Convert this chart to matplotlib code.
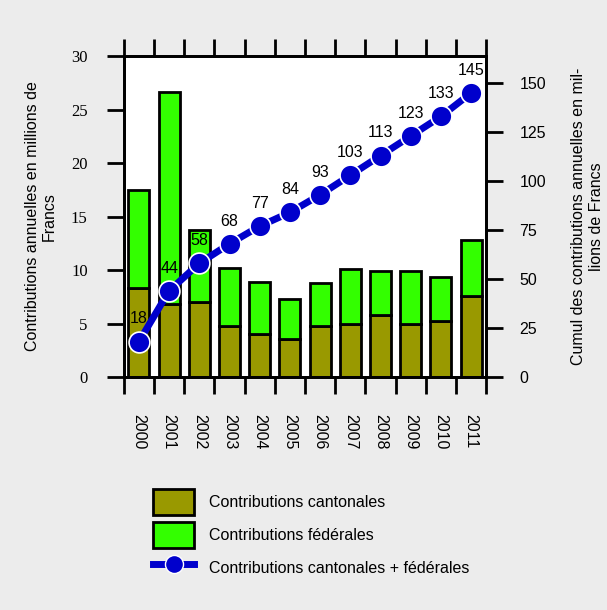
import matplotlib.pyplot as plt
from matplotlib.patches import Patch
from matplotlib.lines import Line2D

plt.rcParams['font.family'] = ['Liberation Sans', 'DejaVu Sans']

annees = ['2000', '2001', '2002', '2003', '2004', '2005',
          '2006', '2007', '2008', '2009', '2010', '2011']
cantonales = [8.3, 6.8, 7.0, 4.8, 4.0, 3.55, 4.8, 4.95, 5.75, 5.0, 5.25, 7.6]
federales = [9.2, 19.8, 6.7, 5.4, 4.85, 3.75, 4.0, 5.1, 4.15, 4.9, 4.1, 5.25]
cumul = [18, 44, 58, 68, 77, 84, 93, 103, 113, 123, 133, 145]

bg = '#ececec'
c_cant = '#999900'
c_fed = '#33ff00'
c_line = '#0000cc'
fs = 11.5

fig = plt.figure(figsize=(6.07, 6.10), dpi=100, facecolor=bg)
ax = fig.add_axes([0.204, 0.382, 0.597, 0.526])
ax.set_facecolor('white')

x = list(range(len(annees)))
ax.bar(x, cantonales, width=0.7, color=c_cant, edgecolor='black', linewidth=2, zorder=2)
ax.bar(x, federales, width=0.7, bottom=cantonales, color=c_fed,
       edgecolor='black', linewidth=2, zorder=2)

ax.set_xlim(-0.5, len(annees) - 0.5)
ax.set_ylim(0, 30)
ax.set_yticks(range(0, 31, 5))
ax.set_yticklabels([str(v) for v in range(0, 31, 5)], family='Liberation Serif', fontsize=12)

# ticks aux limites des barres, libellés au centre
ax.set_xticks([k - 0.5 for k in range(len(annees) + 1)])
ax.set_xticklabels([])
ax.set_xticks(x, minor=True)
ax.set_xticklabels(annees, minor=True, rotation=-90, fontsize=fs)
ax.tick_params(axis='x', which='major', direction='out', length=12, width=2,
               top=True, bottom=True)
ax.tick_params(axis='x', which='minor', length=0, pad=27)
ax.tick_params(axis='y', direction='out', length=12, width=2, pad=14)
for s in ax.spines.values():
    s.set_linewidth(2)

ax.set_ylabel('Contributions annuelles en millions de\nFrancs', fontsize=fs,
              labelpad=10)

ax2 = ax.twinx()
ax2.set_ylim(0, 163.8)
ax2.set_yticks(range(0, 151, 25))
ax2.tick_params(axis='y', direction='out', length=12, width=2, labelsize=fs, pad=12)
ax2.plot(x, cumul, color=c_line, linewidth=5, marker='o', markersize=15,
         markerfacecolor=c_line, markeredgecolor='white', markeredgewidth=1.2,
         zorder=3)
for xi, v in zip(x, cumul):
    ax2.annotate(str(v), (xi, v), xytext=(0, 11), textcoords='offset points',
                 ha='center', va='bottom', fontsize=fs)
ax2.set_ylabel('Cumul des contributions annuelles en mil-\nlions de Francs',
               fontsize=fs, labelpad=18)
for s in ax2.spines.values():
    s.set_linewidth(2)

handles = [
    Patch(facecolor=c_cant, edgecolor='black', linewidth=2),
    Patch(facecolor=c_fed, edgecolor='black', linewidth=2),
    Line2D([0], [0], color=c_line, linewidth=5, marker='o', markersize=13,
           markerfacecolor=c_line, markeredgecolor='white'),
]
labels = ['Contributions cantonales', 'Contributions fédérales',
          'Contributions cantonales + fédérales']
fig.legend(handles, labels, loc='upper left', bbox_to_anchor=(0.228, 0.222),
           frameon=False, fontsize=fs, handlelength=2.6, handleheight=2.1,
           labelspacing=0.45, handletextpad=0.9)

fig.savefig('out.png', dpi=100, facecolor=bg)
